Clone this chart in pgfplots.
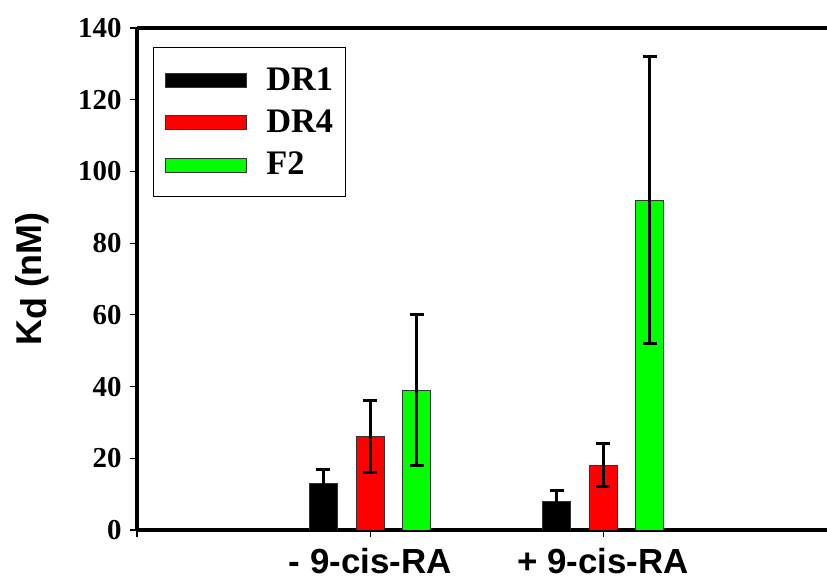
\documentclass[border=0pt]{standalone}
\usepackage{pgfplots}
\pgfplotsset{compat=1.18}
\usepackage{fontspec}
\setmainfont{Liberation Serif}
\setsansfont{Liberation Sans}
\definecolor{myred}{RGB}{255,0,0}
\definecolor{mygreen}{RGB}{0,255,0}
\begin{document}
\begin{tikzpicture}
\begin{axis}[
  name=ax,
  scale only axis, width=690bp, height=502bp,
  xmin=0, xmax=2.96, ymin=0, ymax=140,
  axis x line*=box, axis y line*=left,
  axis line style={-, line width=3.5bp},
  xtick={0,1,2}, xticklabels={,- 9-cis-RA,+ 9-cis-RA},
  xtick pos=bottom, ytick pos=left,
  ytick={0,20,...,140},
  tick align=outside,
  major tick length=7bp,
  every tick/.style={black, line width=1.2bp},
  /pgf/number format/assume math mode=true,
  yticklabel style={font=\bfseries\fontsize{29}{32}\selectfont, xshift=-5bp},
  xticklabel style={font=\sffamily\bfseries\fontsize{35}{38}\selectfont, inner sep=0pt, yshift=-11bp},
  ylabel={\sffamily\bfseries K\raisebox{-5bp}{d} (nM)},
  ylabel style={font=\sffamily\bfseries\fontsize{36}{40}\selectfont, at={(axis description cs:-0.1377,0.5)}, anchor=base, inner sep=0pt},
  ybar, bar width=0.12, bar shift=0pt,
  legend image code/.code={\draw[#1, line width=0.8bp] (0bp,-8bp) rectangle (80bp,6bp);},
  legend cell align=left,
  legend style={at={(axis description cs:0,1)}, anchor=north west, xshift=16bp, yshift=-19bp,
    draw=black, line width=1bp, font=\bfseries\fontsize{34.5}{36}\selectfont,
    inner xsep=12bp, inner ysep=20bp, row sep=18bp, column sep=20bp,
    nodes={inner sep=0bp}},
]
\addplot[fill=black, draw=black!80, line width=0.8bp,
  error bars/.cd, y dir=both, y explicit,
  error bar style={line width=3bp, black},
  error mark options={rotate=90, mark size=7bp, line width=3bp, black}]
  coordinates {(0.8,13) +- (0,4) (1.8,8) +- (0,3)};
\addlegendentry{DR1}
\addplot[fill=myred, draw=black!80, line width=0.8bp,
  error bars/.cd, y dir=both, y explicit,
  error bar style={line width=3bp, black},
  error mark options={rotate=90, mark size=7bp, line width=3bp, black}]
  coordinates {(1,26) +- (0,10) (2,18) +- (0,6)};
\addlegendentry{DR4}
\addplot[fill=mygreen, draw=black!80, line width=0.8bp,
  error bars/.cd, y dir=both, y explicit,
  error bar style={line width=3bp, black},
  error mark options={rotate=90, mark size=7bp, line width=3bp, black}]
  coordinates {(1.2,39) +- (0,21) (2.2,92) +- (0,40)};
\addlegendentry{F2}
\end{axis}
\pgfresetboundingbox
\useasboundingbox ([shift={(-137bp,-49bp)}]ax.south west) rectangle ([shift={(0bp,28bp)}]ax.north east);
\end{tikzpicture}
\end{document}
